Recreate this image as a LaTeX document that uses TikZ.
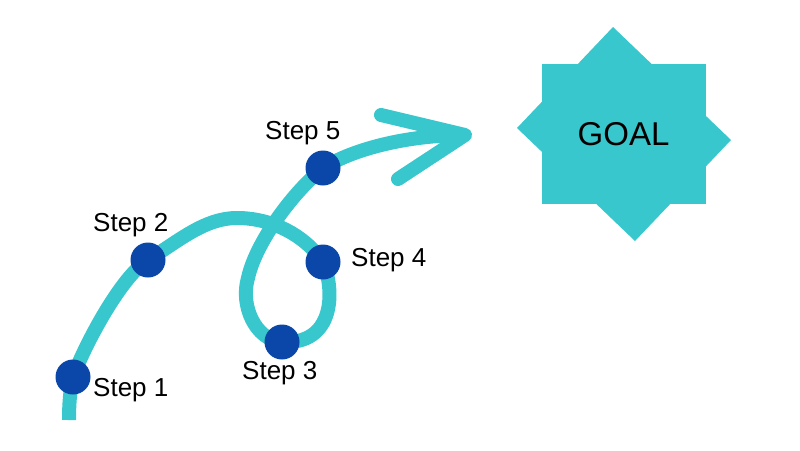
\documentclass[tikz,border=0pt]{standalone}
\usepackage{fontspec}
\setmainfont{Liberation Sans}
\definecolor{teal1}{HTML}{38C7CD}
\definecolor{dotblue}{HTML}{0A47A9}
\begin{document}
\begin{tikzpicture}[x=1pt,y=-1pt,
  road/.style={draw=teal1,line width=14pt},
  dot/.style={circle,fill=dotblue,minimum size=35pt,inner sep=0pt},
  lbl/.style={font=\fontsize{26}{30}\selectfont,anchor=base west,inner sep=0pt}]
\useasboundingbox (0,0) rectangle (800,450);
% goal star
\fill[teal1] (613,27) -- (731,140) -- (635,241) -- (517,128) -- cycle;
\fill[teal1] (542,64) rectangle (706,204);
\node[font=\fontsize{33}{38}\selectfont,anchor=base,inner sep=0pt] (goal) at (623.5,145) {GOAL};
% path coordinates
\coordinate (s0) at (69,420);
\coordinate (s1) at (73,377);
\coordinate (s2) at (148,260);
\coordinate (top) at (237,218);
\coordinate (s4) at (323,262);
\coordinate (s3) at (282,342);
\coordinate (lft) at (248,278);
\coordinate (s5) at (323,168);
\coordinate (tip) at (465,135);
\coordinate (a1) at (381,115);
\coordinate (a2) at (398,179);
\draw[road,line cap=butt] (s0) .. controls (69,405) and (70,390) .. (s1)
  .. controls (83,349) and (120,277) .. (s2)
  .. controls (180,240) and (205,218) .. (top)
  .. controls (275,218) and (307,238) .. (s4)
  .. controls (335,290) and (335,345) .. (s3)
  .. controls (255,340) and (240,305) .. (lft)
  .. controls (255,245) and (290,195) .. (s5)
  .. controls (355,148) and (410,135) .. (tip);
\draw[road,line cap=round,line join=round] (a1) -- (tip) -- (a2);
% dots
\node[dot] (d1) at (s1) {};
\node[dot] (d2) at (s2) {};
\node[dot] (d3) at (s3) {};
\node[dot] (d4) at (s4) {};
\node[dot] (d5) at (s5) {};
% labels
\node[lbl] (l1) at (93,396) {Step 1};
\node[lbl] (l2) at (93,231) {Step 2};
\node[lbl] (l3) at (242,379) {Step 3};
\node[lbl] (l4) at (351,266) {Step 4};
\node[lbl] (l5) at (265,139) {Step 5};
\end{tikzpicture}
\end{document}
